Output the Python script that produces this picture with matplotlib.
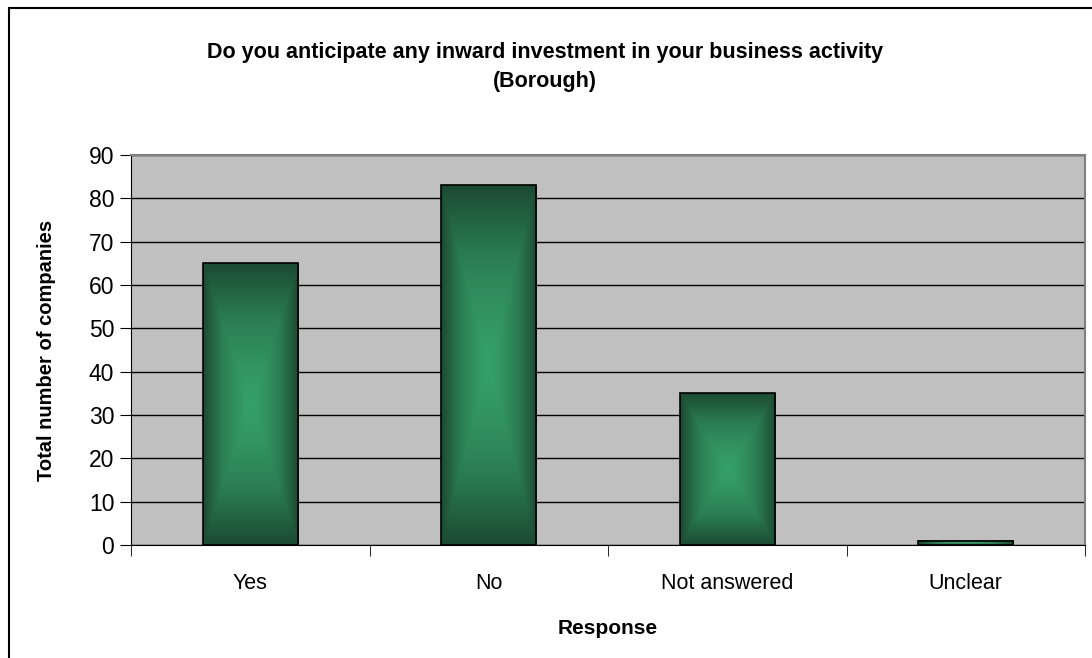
import numpy as np
import matplotlib
matplotlib.use("Agg")
import matplotlib.pyplot as plt
from matplotlib.colors import LinearSegmentedColormap
from matplotlib.patches import Rectangle

categories = ["Yes", "No", "Not answered", "Unclear"]
counts = [65, 83, 35, 1]
title = "Do you anticipate any inward investment in your business activity\n(Borough)"

plt.rcParams["font.family"] = ["Liberation Sans", "DejaVu Sans"]

W, H = 1092, 658
fig = plt.figure(figsize=(W / 100, H / 100), dpi=100)
fig.patch.set_facecolor("white")

# outer chart frame (runs off the right and bottom of the image)
fig.patches.append(Rectangle((9 / W, -0.2), 1.2, 1 - 8 / H + 0.2, transform=fig.transFigure,
                             fill=False, edgecolor="black", linewidth=1.5))

ax = fig.add_axes([131 / W, 1 - 545 / H, (1085 - 131) / W, (545 - 155) / H])
ax.set_facecolor("#c0c0c0")

ax.set_yticks(range(0, 91, 10))
ax.yaxis.grid(True, color="black", linewidth=1)
ax.set_axisbelow(True)

cmap = LinearSegmentedColormap.from_list("bargrad", ["#36a06a", "#2b7f52", "#1c4a34"])
ny, nx = 200, 100
u = np.abs(np.linspace(-1, 1, nx))[None, :]
v = np.abs(np.linspace(-1, 1, ny))[:, None]
grad = np.maximum(u, v) ** 1.3

width = 0.4
bars = ax.bar(range(len(categories)), counts, width=width, facecolor="none",
              edgecolor="black", linewidth=1.2, zorder=3)
for b in bars:
    x0, y0 = b.get_x(), b.get_y()
    ax.imshow(grad, cmap=cmap, extent=(x0, x0 + b.get_width(), y0, y0 + b.get_height()),
              aspect="auto", zorder=2, interpolation="bilinear", vmin=0, vmax=1)
ax.set_xlim(-0.5, len(categories) - 0.5)
ax.set_ylim(0, 90)

ax.set_xticks(range(len(categories)))
ax.set_xticklabels(categories, fontsize=15.5)
ax.set_xticks(np.arange(-0.5, len(categories)), minor=True)
ax.tick_params(axis="x", which="major", length=0, pad=20)
ax.tick_params(axis="x", which="minor", length=8, direction="out", color="black")
ax.tick_params(axis="y", length=8, direction="out", labelsize=16.5, pad=4)

for side in ("top", "right"):
    ax.spines[side].set_color("#808080")
    ax.spines[side].set_linewidth(1.5)
for side in ("left", "bottom"):
    ax.spines[side].set_color("black")

ax.set_xlabel("Response", fontsize=15, fontweight="bold", labelpad=18)
ax.set_ylabel("Total number of companies", fontsize=14.5, fontweight="bold", labelpad=24)

fig.text(545 / W, 1 - 67 / H, title, ha="center", va="center", fontsize=15.5,
         fontweight="bold", linespacing=1.5)

fig.savefig("out.png", dpi=100)
